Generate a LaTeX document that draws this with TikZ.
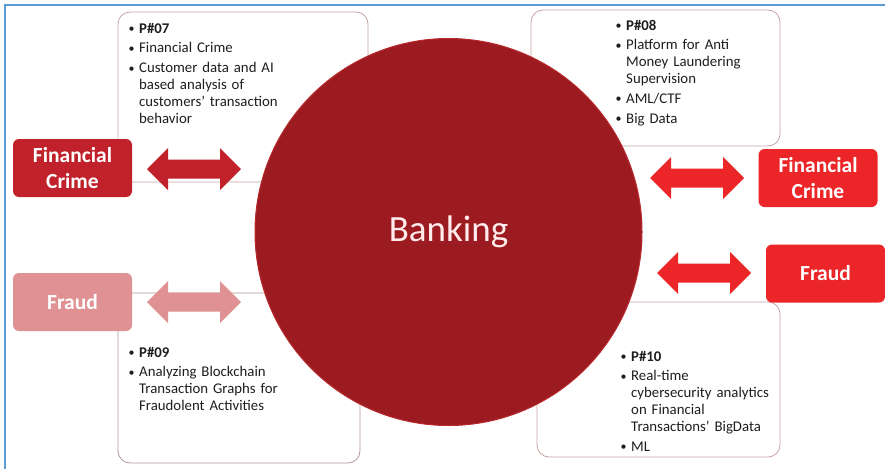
\documentclass[tikz,border=0pt]{standalone}
\usepackage{fontspec}
\setmainfont{Carlito}
\usetikzlibrary{calc}
\definecolor{frameblue}{HTML}{5B9BD5}
\definecolor{bank}{HTML}{9C1B20}
\definecolor{bankedge}{HTML}{B8292E}
\definecolor{darkred}{HTML}{C0212B}
\definecolor{pinkred}{HTML}{DF9193}
\definecolor{brightred}{HTML}{EC2628}
\definecolor{boxedge}{HTML}{C9A3A3}
\definecolor{txt}{HTML}{1E1E1E}
\newcommand{\bitem}[1]{\hangindent=10pt\hangafter=1\noindent\hbox to 10pt{\hskip-0.5pt\raisebox{0.6pt}{\fontsize{12}{12}\selectfont\textbullet}\hss}#1\par}
\tikzset{
  infobox/.style={draw=boxedge, line width=0.8pt, fill=white, rounded corners=12pt},
  infotext/.style={anchor=base west, inner sep=0pt, text width=170pt, text=txt,
     font=\fontsize{14.8}{16.8}\selectfont\setlength{\parskip}{3pt}\raggedright},
  labelbox/.style={rounded corners=6pt, inner sep=0pt, minimum width=119pt, minimum height=58pt,
     text=white, align=center, font=\bfseries\fontsize{21.5}{26}\selectfont},
  dblarrow/.pic={\fill (-47,0) -- (-26,-21) -- (-26,-9.5) -- (26,-9.5) -- (26,-21) -- (47,0)
     -- (26,21) -- (26,9.5) -- (-26,9.5) -- (-26,21) -- cycle;}
}
\begin{document}
\begin{tikzpicture}[x=1pt,y=-1pt]
\useasboundingbox (0,0) rectangle (885,469);
\fill[white] (0,0) rectangle (885,469);
% frame
\draw[frameblue, line width=1.6pt] (5,469) -- (5,5) -- (885,5);
% info boxes
\draw[infobox] (118,12) rectangle (368,182);
\draw[infobox] (531,10) rectangle (780,146);
\draw[infobox, draw=boxedge!70!gray] (118,293) rectangle (360,463);
\draw[infobox] (537,302) rectangle (780,457);
% texts
\node[infotext] (t07) at (129,33) {\bitem{\textbf{P\#07}}\bitem{Financial Crime}\bitem{Customer data and AI\newline based analysis of\newline customers’ transaction\newline behavior}};
\node[infotext] (t08) at (616,30) {\bitem{\textbf{P\#08}}\bitem{Platform for Anti\newline Money Laundering\newline Supervision}\bitem{AML/CTF}\bitem{Big Data}};
\node[infotext] (t09) at (129,357) {\bitem{\textbf{P\#09}}\bitem{Analyzing Blockchain\newline Transaction Graphs for\newline Fraudolent Activities}};
\node[infotext] (t10) at (621,361) {\bitem{\textbf{P\#10}}\bitem{Real-time\newline cybersecurity analytics\newline on Financial\newline Transactions' BigData}\bitem{ML}};
% arrows
\pic[darkred] at (194,169) {dblarrow};
\pic[pinkred] at (194,302) {dblarrow};
\pic[brightred] at (697,178) {dblarrow};
\pic[brightred] at (704,273) {dblarrow};
% labels
\node[labelbox, fill=darkred] (fcl) at (72.5,168) {Financial\\Crime};
\node[labelbox, fill=pinkred] (frl) at (72.5,302) {Fraud};
\node[labelbox, fill=brightred] (fcr) at (818,178) {Financial\\Crime};
\node[labelbox, fill=brightred] (frr) at (825.5,273.5) {Fraud};
% circle
\node[circle, fill=bank, draw=bankedge, line width=1pt, minimum size=387pt, inner sep=0pt,
  text=white!92!red, font=\fontsize{37}{44}\selectfont] (bank) at (448.5,232) {Banking};
\end{tikzpicture}
\end{document}
